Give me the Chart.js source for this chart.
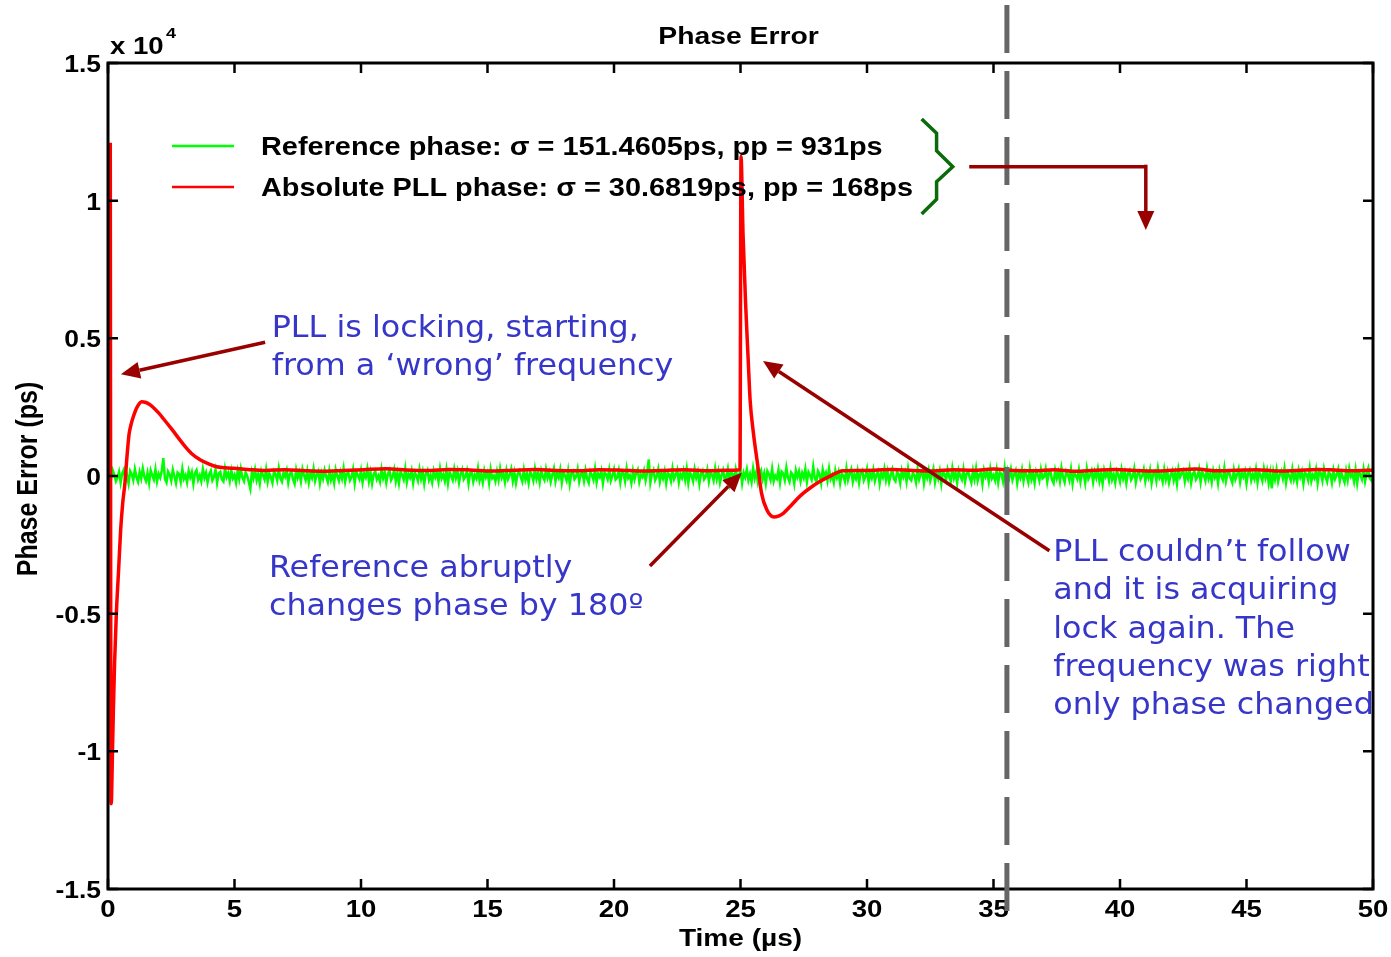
<!DOCTYPE html>
<html>
<head>
<meta charset="utf-8">
<script src="https://cdn.jsdelivr.net/npm/chart.js@4.4.1/dist/chart.umd.min.js"></script>
<style>
  body { margin: 0; background: #fff; }
  canvas { display: block; }
</style>
</head>
<body>
<canvas id="phaseChart" width="1391" height="957"></canvas>
<script>
'use strict';

// x axis (us) and y axis (ps) ticks
var xTicks = [0, 5, 10, 15, 20, 25, 30, 35, 40, 45, 50];
var yTicks = [-15000, -10000, -5000, 0, 5000, 10000, 15000];
var yTickLabels = ['-1.5', '-1', '-0.5', '0', '0.5', '1', '1.5'];

// reference phase, sampled every 0.0625 us (ps)
var greenStep = 0.0625;
var greenPhase = [
  0, 120, -80, 210, 40, -190, -60, 150, -240, 90, 230, -120, 30, -270, 180, 60, -150, 250, -40, -210,
  140, -90, 270, -30, -180, 110, -250, 200, 20, -130, 240, -200, 80, -60, 190, 650, -110, -240, 160, 50,
  -170, 220, -20, -260, 130, 70, -210, 260, -100, 30, -230, 180, -50, 140, -280, 100, 210, -140, 20, -190,
  250, -70, 120, -230, 60, 190, -160, -30, 230, -250, 90, 150, -120, -200, 270, -40, 110, -180, 200, -90,
  40, -240, 180, -110, 260, -60, -190, 130, 10, -220, -460, 140, -80, 230, -150, 70, -270, 190, 30, -130,
  240, -200, 100, -40, -250, 170, 50, -160, 280, -90, -210, 120, -20, 200, -240, 80, 150, -120, -280, 220,
  -60, 130, -190, 250, 20, -150, 180, -230, 90, -70, 260, -180, 40, 170, -260, 110, -100, 210, -30, -220,
  190, -140, 60, -250, 230, 0, -170, 140, -90, 270, -210, 80, 120, -160, -40, 240, -260, 150, 30, -110,
  200, -230, 90, -50, 260, -180, 130, -270, 60, 180, -120, 10, -200, 250, -80, 140, -240, 70, 210, -150,
  -30, 230, -190, 110, -260, 160, 40, -130, 270, -220, 80, -60, 190, -250, 120, 20, -170, 240, -100, 150,
  -280, 90, 210, -140, 30, -230, 180, -50, 120, -200, 260, -90, 50, -180, 220, -260, 140, 0, -150, 250,
  -70, 170, -240, 60, 230, -120, -20, 190, -270, 100, 150, -210, 40, -90, 280, -160, 70, -230, 200, -40,
  130, -250, 240, -80, 10, -190, 160, -140, 270, -60, 90, -220, 200, -110, 30, 250, -180, 120, -260, 60,
  180, -30, -200, 220, -130, 80, -250, 150, 40, -170, 260, -100, 110, -230, 190, -20, -150, 240, -70, 130,
  -210, 50, 270, -190, 100, -60, 230, -240, 140, 20, -160, 200, -280, 90, 170, -120, -30, 250, -200, 70,
  120, -180, 210, -90, -250, 160, 30, -140, 260, -220, 80, -40, 190, -270, 130, 60, -110, 230, -170, 10,
  240, -130, -60, 200, -230, 150, 90, -190, 270, -80, 20, -250, 180, -120, 110, 230, -210, 50, -40, 190,
  -160, 140, 600, -240, 70, 210, -150, -20, 250, -200, 100, -90, 170, -260, 120, 40, -180, 260, -110, 30,
  220, -230, 80, -70, 190, -140, 260, -250, 130, 10, -190, 240, -60, 150, -280, 90, 200, -120, -30, 230,
  -200, 110, 60, -160, 270, -100, 170, -240, 30, 210, -130, -50, 250, -220, 140, 80, -170, 230, -90, 20,
  190, -260, 120, -40, 240, -150, 70, -210, 280, -80, 150, -230, 40, 200, -120, 100, -270, 180, 60, -140,
  260, -190, 10, -100, 220, -240, 160, 90, -150, 300, -60, -210, 130, 50, -280, 200, -30, 170, -180, 110,
  -70, 250, -220, 140, 20, -130, 330, -90, -200, 180, 70, -250, 230, -40, 120, -170, 260, -110, 30, -230,
  200, -60, 150, -260, 90, 10, -190, 270, -140, 80, 240, -210, 50, -100, 190, -240, 130, 210, -160, -20,
  250, -230, 110, -70, 220, -180, 40, 170, -270, 100, -50, 260, -140, 160, -220, 30, 230, -110, -190, 140,
  60, -250, 200, -30, 150, -200, 270, -90, -160, 120, 20, -240, 240, -120, 80, 190, -260, 130, -60, 210,
  -170, 40, 260, -220, 100, -100, 180, -270, 150, 70, -140, 230, -30, -190, 280, -80, 110, -250, 200, 0,
  -130, 240, -210, 90, 160, -60, -240, 190, -110, 270, -170, 50, 120, -280, 210, -20, 140, -200, 250, -90,
  30, -160, 220, -230, 130, 80, -190, 260, -420, 170, -50, 240, -140, 60, 200, -260, 100, -70, 230, -180,
  150, 10, -220, 270, -120, 90, -250, 180, 40, -170, 230, -90, -30, 250, -210, 120, 160, -140, -260, 200,
  -80, 140, -190, 290, -40, -230, 170, 60, -150, 240, -270, 110, 20, -110, 220, -200, 130, 80, -250, 260,
  -100, 30, 190, -220, 150, -60, 250, -180, 90, -280, 210, -20, 120, -160, 270, -130, 50, -240, 180, 40,
  -200, 230, -90, 140, -260, 100, 200, -140, -30, 260, -230, 70, 160, -110, 10, 240, -190, 130, -60, 220,
  -250, 80, 170, -170, 280, -70, 50, -210, 230, -120, 140, -240, 20, 190, -150, 110, -280, 250, -40, 90,
  200, -200, 120, -90, 260, -250, 60, 180, -130, -20, 240, -220, 150, 30, -170, 270, -100, 80, -230, 190,
  -50, 130, -260, 220, 0, -140, 280, -190, 90, 160, -80, -240, 210, -120, 40, 250, -210, 120, -30, 170,
  -270, 100, 230, -160, 60, -110, 240, -230, 140, 20, -180, 260, -60, 190, -250, 110, -450, 150, -120, 230,
  -200, 50, 180, -90, 270, -240, 130, 10, -160, 250, -130, 90, -220, 210, -40, 160, -270, 120, 70, -150,
  280, -190, 40, -80, 230, -250, 170, 100, -170, 260, -30, -210, 140, 60, -240, 200, -110, 30, 250, -180,
  120, -60, -230, 190, -140, 270, -20, 80, -200, 220, -260, 150, 50, -120, 240, -190, 110, 290, -90, -160,
  -40
];

// absolute PLL phase (us, ps)
var redTime = [
  0.09, 0.12, 0.14, 0.17, 0.21, 0.26, 0.33, 0.42, 0.5, 0.58, 0.67, 0.75, 0.83, 0.92, 1.0, 1.15, 1.33, 1.5, 1.66, 1.79,
  2.0, 2.19, 2.52, 2.98, 3.3, 3.64, 4.0, 4.3, 4.94, 5.5, 6.2, 7.0, 7.8, 8.5, 9.3, 10.1, 11.0, 11.8, 12.6, 13.5,
  14.3, 15.2, 16.0, 16.9, 17.7, 18.6, 19.4, 20.3, 21.1, 22.0, 22.8, 23.7, 24.5, 24.98, 25.02, 25.1, 25.2, 25.3, 25.38, 25.51,
  25.69, 25.83, 26.04, 26.32, 26.5, 26.69, 26.95, 27.2, 27.45, 27.75, 28.1, 28.5, 29.05, 29.6, 30.3, 31.0, 31.8, 32.6, 33.4, 34.2,
  35.0, 35.8, 36.6, 37.4, 38.2, 39.0, 39.8, 40.6, 41.4, 42.2, 43.0, 43.8, 44.6, 45.4, 46.2, 47.0, 47.8, 48.6, 49.4, 50
];
var redPhase = [
  12100, -11900, -11700, -10300, -8600, -6800, -5000, -3400, -1960, -1000, -250, 700, 1500, 1900, 2150, 2500, 2700, 2670, 2590, 2490,
  2290, 2080, 1700, 1150, 820, 590, 430, 338, 280, 240, 200, 230, 190, 170, 200, 230, 260, 220, 200, 240,
  220, 180, 210, 240, 200, 190, 230, 210, 180, 200, 230, 190, 210, 230, 11600, 8800, 6300, 4300, 2760, 1560,
  330, -620, -1230, -1490, -1460, -1355, -1120, -870, -650, -436, -220, -25, 190, 200, 210, 240, 200, 180, 230, 210,
  250, 200, 190, 230, 170, 210, 240, 200, 180, 220, 250, 190, 210, 230, 180, 200, 240, 210, 190, 220
];

var legendLabels = [
  'Reference phase: \u03c3 = 151.4605ps, pp = 931ps',
  'Absolute PLL phase: \u03c3 = 30.6819ps, pp = 168ps'
];

var blackFont = "'Liberation Sans', Arial, sans-serif";
var blueFont = "'DejaVu Sans', Verdana, sans-serif";
var blue = '#3636c9';
var darkRed = '#990000';

// annotations, in data units (us, ps)
var notes = [
  { x: 6.47, y: 5059, lines: ['PLL is locking, starting,', 'from a \u2018wrong\u2019 frequency'] },
  { x: 6.36, y: -3668, lines: ['Reference abruptly', 'changes phase by 180\u00ba'] },
  { x: 37.36, y: -3087, lines: ['PLL couldn\u2019t follow', 'and it is acquiring', 'lock again. The',
                                 'frequency was right', 'only phase changed'] }
];
var arrows = [
  [6.21, 4856, 0.51, 3694],
  [21.42, -3269, 25.05, 120],
  [37.21, -2713, 25.89, 4177]
];
var brace = [[32.16, 12966], [32.75, 12447], [32.75, 11815], [33.39, 11234],
             [32.75, 10689], [32.75, 10050], [32.16, 9516]];
var bentArrow = [[34.04, 11234], [41.02, 11234], [41.02, 8935]];
var markerTime = 35.53;

function sText(ctx, txt, x, y, font, color, align, sx) {
  ctx.save();
  ctx.translate(x, y);
  ctx.scale(sx, 1);
  ctx.font = font;
  ctx.fillStyle = color;
  ctx.textAlign = align;
  ctx.textBaseline = 'alphabetic';
  ctx.fillText(txt, 0, 0);
  ctx.restore();
}

function drawArrow(ctx, x1, y1, x2, y2) {
  var a = Math.atan2(y2 - y1, x2 - x1);
  var len = 19, hw = 8.5;
  var bx = x2 - len * Math.cos(a), by = y2 - len * Math.sin(a);
  ctx.beginPath();
  ctx.moveTo(x1, y1);
  ctx.lineTo(bx, by);
  ctx.stroke();
  ctx.beginPath();
  ctx.moveTo(x2, y2);
  ctx.lineTo(bx + hw * Math.sin(a), by - hw * Math.cos(a));
  ctx.lineTo(bx - hw * Math.sin(a), by + hw * Math.cos(a));
  ctx.closePath();
  ctx.fill();
}

var decorPlugin = {
  id: 'decor',
  afterDraw: function (chart) {
    var ctx = chart.ctx, a = chart.chartArea;
    var xs = chart.scales.x, ys = chart.scales.y;
    var px = function (v) { return xs.getPixelForValue(v); };
    var py = function (v) { return ys.getPixelForValue(v); };

    // box and inward ticks
    ctx.save();
    ctx.strokeStyle = '#000';
    ctx.lineWidth = 2.5;
    xTicks.forEach(function (t) {
      var x = px(t);
      ctx.beginPath();
      ctx.moveTo(x, a.bottom); ctx.lineTo(x, a.bottom - 10);
      ctx.moveTo(x, a.top); ctx.lineTo(x, a.top + 10);
      ctx.stroke();
    });
    yTicks.forEach(function (t) {
      var y = py(t);
      ctx.beginPath();
      ctx.moveTo(a.left, y); ctx.lineTo(a.left + 10, y);
      ctx.moveTo(a.right, y); ctx.lineTo(a.right - 10, y);
      ctx.stroke();
    });
    ctx.lineWidth = 3;
    ctx.strokeRect(a.left, a.top, a.right - a.left, a.bottom - a.top);
    ctx.restore();

    // tick labels
    var tf = 'bold 23px ' + blackFont;
    xTicks.forEach(function (t) {
      sText(ctx, String(t), px(t), a.bottom + 28, tf, '#000', 'center', 1.2);
    });
    yTicks.forEach(function (t, i) {
      sText(ctx, yTickLabels[i], a.left - 7, py(t) + 9, tf, '#000', 'right', 1.15);
    });
    sText(ctx, 'x 10', a.left + 2, a.top - 9, tf, '#000', 'left', 1.2);
    sText(ctx, '4', a.left + 58, a.top - 25, 'bold 15px ' + blackFont, '#000', 'left', 1.2);

    // titles
    sText(ctx, 'Phase Error', (a.left + a.right) / 2 - 2, a.top - 19, 'bold 23px ' + blackFont, '#000', 'center', 1.23);
    sText(ctx, 'Time (\u00b5s)', (a.left + a.right) / 2, a.bottom + 57, 'bold 23px ' + blackFont, '#000', 'center', 1.22);
    ctx.save();
    ctx.translate(37, (a.top + a.bottom) / 2 + 3);
    ctx.rotate(-Math.PI / 2);
    ctx.scale(1, 1.2);
    ctx.font = 'bold 25px ' + blackFont;
    ctx.fillStyle = '#000';
    ctx.textAlign = 'center';
    ctx.fillText('Phase Error (ps)', 0, 0);
    ctx.restore();

    // legend
    var legColors = ['#00ff00', '#ff0000'];
    legendLabels.forEach(function (lab, i) {
      var y = a.top + 83 + i * 41;
      ctx.save();
      ctx.strokeStyle = legColors[i];
      ctx.lineWidth = 2.5;
      ctx.beginPath();
      ctx.moveTo(a.left + 64, y); ctx.lineTo(a.left + 126, y);
      ctx.stroke();
      ctx.restore();
      sText(ctx, lab, a.left + 153, y + 9, 'bold 25px ' + blackFont, '#000', 'left', 1.155);
    });

    // dashed marker
    ctx.save();
    ctx.strokeStyle = '#666666';
    ctx.lineWidth = 5;
    ctx.setLineDash([48, 18]);
    ctx.beginPath();
    ctx.moveTo(px(markerTime), 5);
    ctx.lineTo(px(markerTime), 912);
    ctx.stroke();
    ctx.restore();

    // brace
    ctx.save();
    ctx.strokeStyle = '#0b6b0b';
    ctx.lineWidth = 3.5;
    ctx.beginPath();
    brace.forEach(function (p, i) {
      if (i === 0) ctx.moveTo(px(p[0]), py(p[1])); else ctx.lineTo(px(p[0]), py(p[1]));
    });
    ctx.stroke();
    ctx.restore();

    // arrows
    ctx.save();
    ctx.strokeStyle = darkRed;
    ctx.fillStyle = darkRed;
    ctx.lineWidth = 3.5;
    arrows.forEach(function (r) {
      drawArrow(ctx, px(r[0]), py(r[1]), px(r[2]), py(r[3]));
    });
    ctx.beginPath();
    ctx.moveTo(px(bentArrow[0][0]), py(bentArrow[0][1]));
    ctx.lineTo(px(bentArrow[1][0]), py(bentArrow[1][1]));
    ctx.stroke();
    drawArrow(ctx, px(bentArrow[1][0]), py(bentArrow[1][1]) - 2, px(bentArrow[2][0]), py(bentArrow[2][1]));
    ctx.restore();

    // blue notes
    notes.forEach(function (n) {
      n.lines.forEach(function (line, j) {
        sText(ctx, line, px(n.x), py(n.y) + j * 38.3, '30px ' + blueFont, blue, 'left', 1.06);
      });
    });
  }
};

var redData = redTime.map(function (t, i) { return { x: t, y: redPhase[i] }; });
var greenData = greenPhase.map(function (v, i) { return { x: i * greenStep, y: v }; });

var ctx = document.getElementById('phaseChart').getContext('2d');
var chart = new Chart(ctx, {
  type: 'line',
  data: {
    datasets: [{
      label: 'Absolute PLL phase',
      data: redData,
      borderColor: '#ff0000',
      borderWidth: 3.5,
      pointRadius: 0,
      cubicInterpolationMode: 'monotone',
      order: 0
    }, {
      label: 'Reference phase',
      data: greenData,
      borderColor: '#00ff00',
      borderWidth: 2.5,
      pointRadius: 0,
      tension: 0,
      order: 1
    }]
  },
  options: {
    responsive: false,
    animation: false,
    devicePixelRatio: 1,
    layout: { padding: { left: 108, right: 18, top: 63, bottom: 68 } },
    plugins: { legend: { display: false }, tooltip: { enabled: false }, title: { display: false } },
    scales: {
      x: { type: 'linear', display: false, min: 0, max: 50 },
      y: { type: 'linear', display: false, min: -15000, max: 15000 }
    }
  },
  plugins: [decorPlugin]
});
</script>
</body>
</html>
